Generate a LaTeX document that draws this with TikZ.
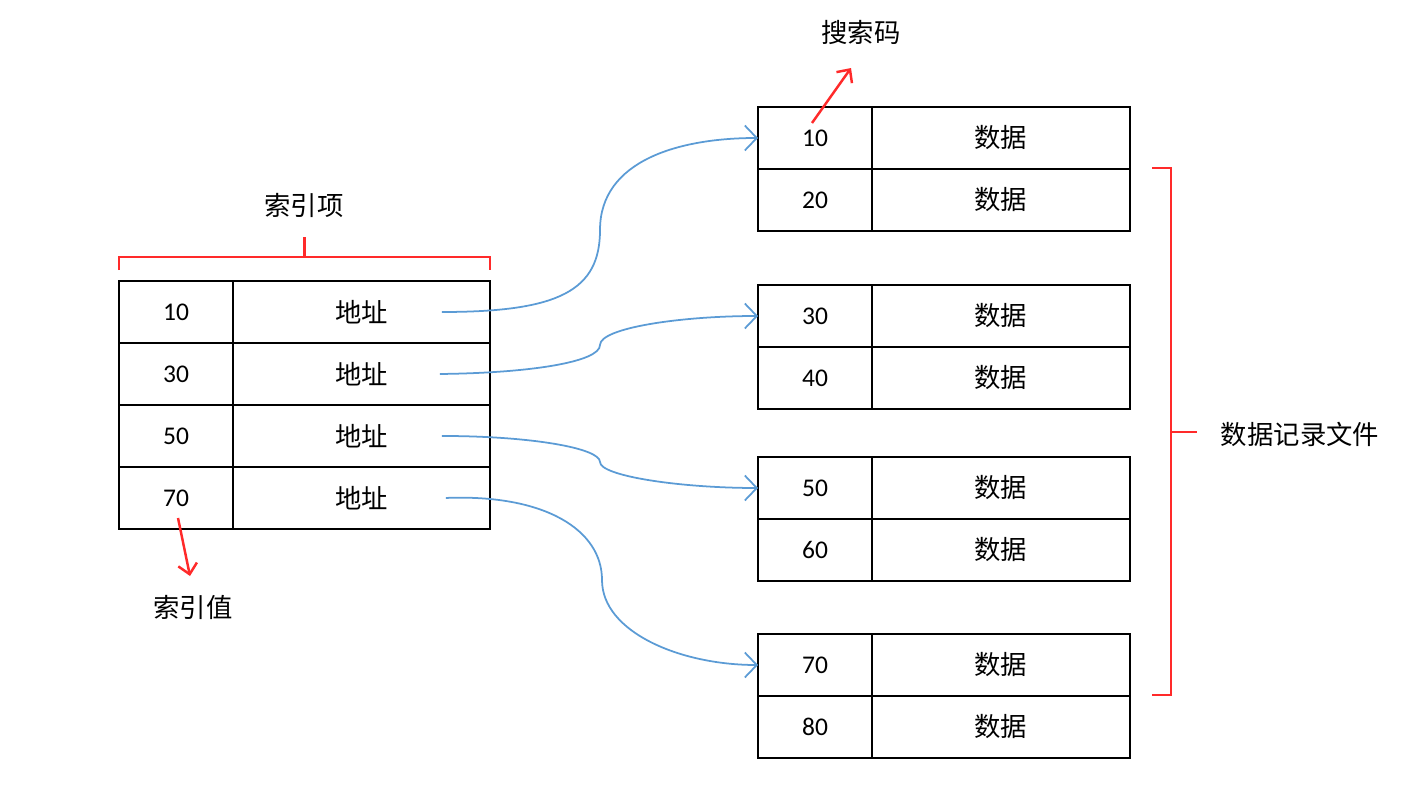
\documentclass[tikz,border=0pt]{standalone}
\usepackage{fontspec}
\setmainfont{Carlito}
\newfontfamily\cjk{Noto Sans CJK SC}
\usepackage{xcolor}
\definecolor{linkblue}{HTML}{5B9BD5}
\definecolor{markred}{HTML}{FF2A2A}
\usetikzlibrary{arrows.meta, positioning, calc}
\tikzset{
    keycell/.style={rectangle, draw, line width=1.1pt, minimum width=2.28cm,
                    minimum height=1.24cm, inner sep=0pt, outer sep=0pt,
                    font=\fontsize{14.5}{17}\selectfont},
    addrcell/.style={keycell, minimum width=5.14cm, font=\cjk\fontsize{15}{18}\selectfont},
    datacell/.style={keycell, minimum width=5.16cm, font=\cjk\fontsize{15}{18}\selectfont},
    note/.style={font=\cjk\fontsize{15}{18}\selectfont, inner sep=2pt},
    link/.style={-{Straight Barb[length=2.4mm, width=5mm]}, linkblue, line width=1pt},
    marker/.style={markred, line width=1.4pt},
    markarrow/.style={marker, -{Straight Barb[length=2mm, width=3.8mm]}},
}

\begin{document}
\begin{tikzpicture}[x=0.02cm, y=-0.02cm]
    \useasboundingbox (0,0) rectangle (1406,790);
    % index table
    \node[keycell] (lk1) at (176,312) {10};
    \node[keycell, below=0pt of lk1] (lk2) {30};
    \node[keycell, below=0pt of lk2] (lk3) {50};
    \node[keycell, below=0pt of lk3] (lk4) {70};
    \foreach \i in {1,...,4}
        \node[addrcell, right=0pt of lk\i] (la\i) {地址};
    % data record blocks
    \foreach \t/\y/\a/\b in {1/138/10/20, 2/316/30/40, 3/488/50/60, 4/665/70/80} {
        \node[keycell] (d\t k1) at (815,\y) {\a};
        \node[keycell, below=0pt of d\t k1] (d\t k2) {\b};
        \node[datacell, right=0pt of d\t k1] (d\t v1) {数据};
        \node[datacell, right=0pt of d\t k2] (d\t v2) {数据};
    }
    % labels
    \node[note] (idxitem) at (304,205) {索引项};
    \node[note] (idxval) at (193,607) {索引值};
    \node[note] (skey) at (861,33) {搜索码};
    \node[note] (dfile) at (1300,434) {数据记录文件};
    % red brackets
    \draw[marker] ([yshift=0.22cm]lk1.north west) -- ++(0,0.26cm)
        -| ([yshift=0.22cm]la1.north east);
    \draw[marker] ($(lk1.north west)!0.5!(la1.north east)+(0,-24)$) -- ++(0,-20);
    \draw[marker] (1152,168) -- (1171,168) -- (1171,695) -- (1152,695);
    \draw[marker] (1171,432) -- (1197,432);
    % red pointers
    \draw[markarrow] ([xshift=-0.06cm, yshift=0.3cm]d1k1.center)
        -- ([xshift=-0.2cm, yshift=-0.38cm]skey.south);
    \draw[markarrow] ([xshift=0.04cm, yshift=-0.4cm]lk4.center)
        -- ([xshift=-0.06cm, yshift=0.3cm]idxval.north);
    % index to record links
    \draw[link] ([xshift=-0.96cm]la1.east) .. controls (560,312) and (600,290)
        .. (600,230) .. controls (600,160) and (680,138) .. (d1k1.west);
    \draw[link] ([xshift=-1cm]la2.east) .. controls (530,373) and (600,362)
        .. (600,345) .. controls (600,328) and (680,316) .. (d2k1.west);
    \draw[link] ([xshift=-0.96cm]la3.east) .. controls (530,436) and (600,448)
        .. (600,462) .. controls (600,476) and (680,488) .. (d3k1.west);
    \draw[link] ([xshift=-0.88cm]la4.east) .. controls (545,494) and (602,530)
        .. (602,580) .. controls (602,632) and (680,665) .. (d4k1.west);
\end{tikzpicture}
\end{document}
